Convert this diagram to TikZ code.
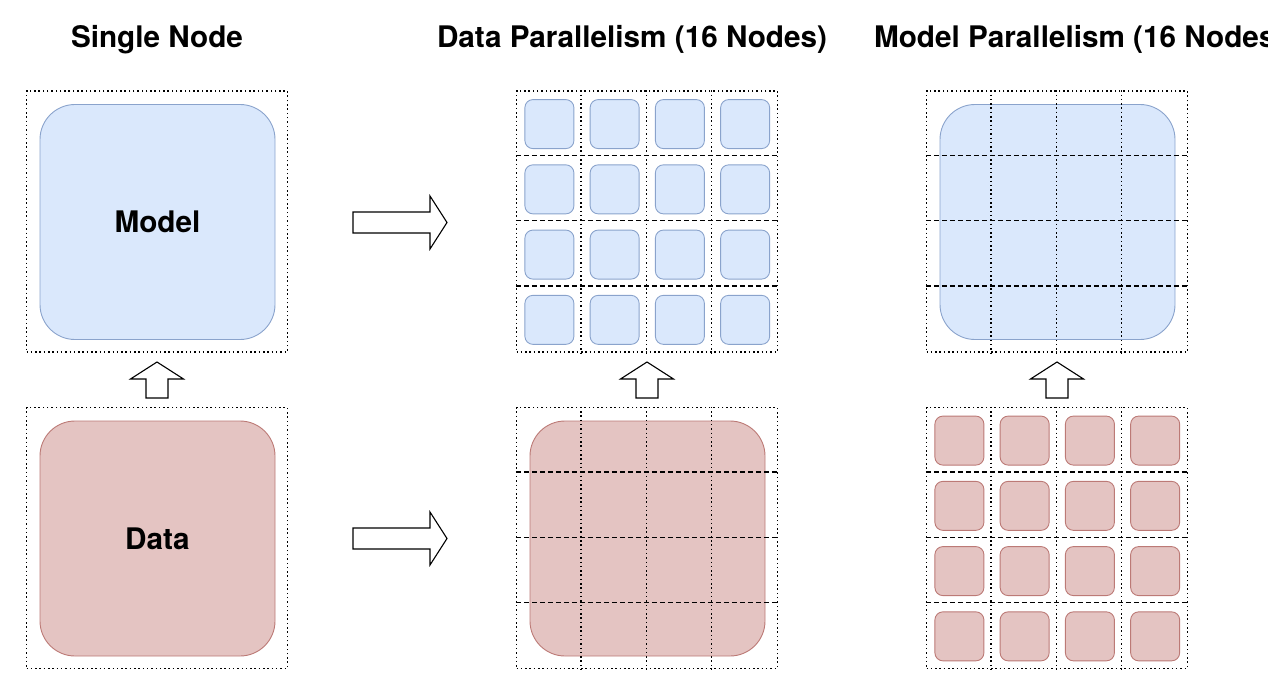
\documentclass[tikz,border=0pt]{standalone}
\usepackage{fontspec}
\setmainfont{TeX Gyre Heros}
\usepackage{tikz}
\definecolor{modelfill}{HTML}{DAE8FC}
\definecolor{modeldraw}{HTML}{8AA3CC}
\definecolor{datafill}{HTML}{E4C4C2}
\definecolor{datadraw}{HTML}{BC7A76}
\tikzset{
  title/.style={font=\fontsize{29.7}{34}\selectfont\bfseries, anchor=base},
  nodebox/.style={draw, line width=1.5pt, dash pattern=on 1.5pt off 2.8pt, minimum size=261pt, inner sep=0pt},
  rowline/.style={line width=1.4pt, dash pattern=on 5pt off 3pt},
  colline/.style={line width=1.5pt, dash pattern=on 1.5pt off 2.8pt},
  big/.style={line width=0.9pt, rounded corners=35pt, minimum size=235pt, inner sep=0pt,
    font=\fontsize{29.7}{34}\selectfont\bfseries},
  small/.style={line width=0.9pt, rounded corners=8pt, minimum size=49pt, inner sep=0pt},
  model/.style={fill=modelfill, draw=modeldraw},
  data/.style={fill=datafill, draw=datadraw},
  blockarrow/.style={draw, line width=1.1pt, fill=white, line join=miter}
}
\begin{document}
\begin{tikzpicture}[x=1pt, y=-1pt]
\clip (0,0) rectangle (1268,687);
\useasboundingbox (0,0) rectangle (1268,687);
%titles
\node[title] (t-single) at (157,48) {Single Node};
\node[title] (t-dp) at (632,48) {Data Parallelism (16 Nodes)};
\node[title, anchor=base west] (t-mp) at (870.5,48) {Model Parallelism (16 Nodes)};
%single node
\node[big, model] (model) at (157.5,222) {Model};
\node[big, data] (data) at (157.5,538.5) {Data};
\node[nodebox] (single-m) at (157,221.5) {};
\node[nodebox] (single-d) at (157,538) {};
%data parallelism: split data, copy model
\node[big, data] (dp-data) at (647.5,538.5) {};
\foreach \i in {0,...,3}{
	\foreach \j in {0,...,3}{
		\node[small, model] (dp-m-\i-\j) at (549.4+65.25*\i, 124.1+65.25*\j) {};
	}
}
%model parallelism: split model, copy data
\node[big, model] (mp-model) at (1057.5,222) {};
\foreach \i in {0,...,3}{
	\foreach \j in {0,...,3}{
		\node[small, data] (mp-d-\i-\j) at (959.4+65.25*\i, 440.6+65.25*\j) {};
	}
}
%grids
\foreach \cx/\cy [count=\n] in {647/221.5, 647/538, 1057/221.5, 1057/538}{
	\node[nodebox] (grid-\n) at (\cx,\cy) {};
	\foreach \k in {1,2,3}{
		\draw[colline] ([xshift=65.25*\k pt]grid-\n.north west) -- ([xshift=65.25*\k pt]grid-\n.south west);
		\draw[rowline] ([yshift=-65.25*\k pt]grid-\n.north west) -- ([yshift=-65.25*\k pt]grid-\n.north east);
	}
}
%arrows
\foreach \y in {222.5,538.5}{
	\draw[blockarrow, shift={(353,\y)}] (0,-10.5) -- (77,-10.5) -- (77,-26.5) -- (94,0) -- (77,26.5) -- (77,10.5) -- (0,10.5) -- cycle;
}
\foreach \x in {157,647,1057}{
	\draw[blockarrow, shift={(\x,398)}] (-11,0) -- (-11,-19) -- (-26.5,-19) -- (0,-36) -- (26.5,-19) -- (11,-19) -- (11,0) -- cycle;
}
\end{tikzpicture}
\end{document}
